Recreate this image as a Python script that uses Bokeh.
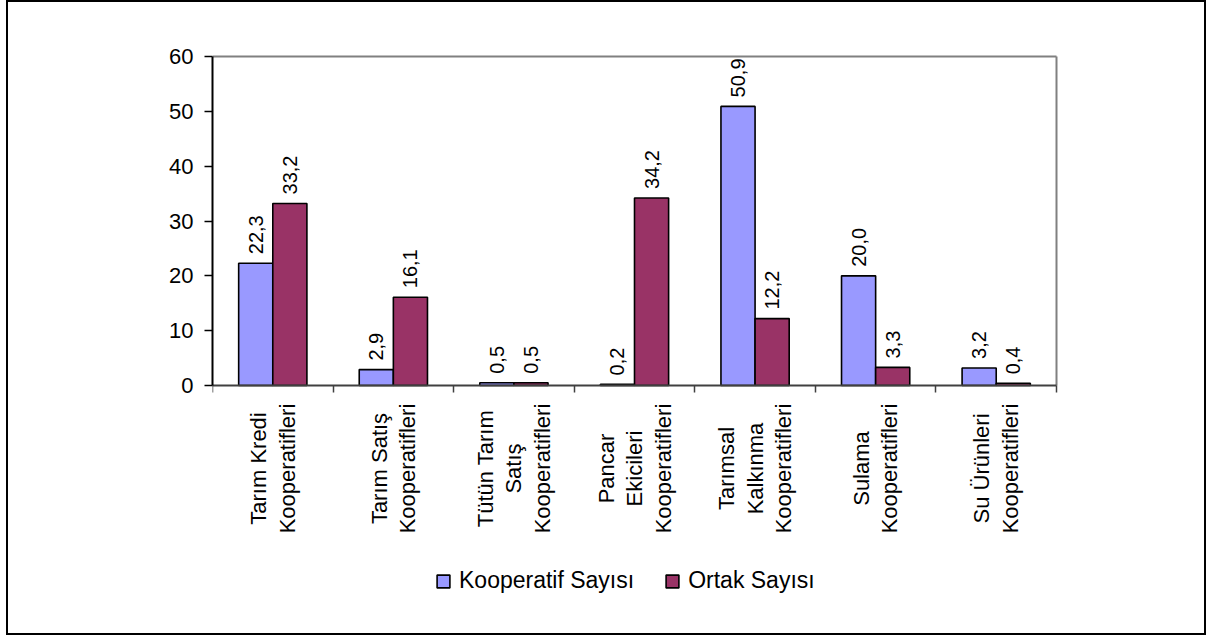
from math import pi
from bokeh.plotting import figure
from bokeh.models import Range1d, FixedTicker, Legend, LegendItem
from bokeh.core.properties import value
from bokeh.embed import file_html
from bokeh.resources import INLINE

# ---- data ----
categories = [
    "Tarım Kredi\nKooperatifleri",
    "Tarım Satış\nKooperatifleri",
    "Tütün Tarım\nSatış\nKooperatifleri",
    "Pancar\nEkicileri\nKooperatifleri",
    "Tarımsal\nKalkınma\nKooperatifleri",
    "Sulama\nKooperatifleri",
    "Su Ürünleri\nKooperatifleri",
]
kooperatif_sayisi = [22.3, 2.9, 0.5, 0.2, 50.9, 20.0, 3.2]
ortak_sayisi = [33.2, 16.1, 0.5, 34.2, 12.2, 3.3, 0.4]
series_names = ["Kooperatif Sayısı", "Ortak Sayısı"]
y_ticks = [0, 10, 20, 30, 40, 50, 60]

# ---- style / layout (pixels) ----
FONT_NAME = "Liberation Sans"
FONT = value(FONT_NAME)
BLUE = "#9999FF"
MAROON = "#993366"

W, H = 1200, 635
AX_LEFT, AX_RIGHT, AX_TOP, AX_ZERO = 204, 1048, 54, 383    # plot box on canvas
F_BOTTOM = 608                                               # frame extends down for labels
PAD = 2
n = len(categories)
ppy = (AX_ZERO - AX_TOP) / (y_ticks[-1] - y_ticks[0])
ppx = (AX_RIGHT - AX_LEFT) / n

p = figure(
    width=W, height=H,
    x_range=Range1d(0, n + PAD / ppx),
    y_range=Range1d(-(F_BOTTOM - AX_ZERO) / ppy, y_ticks[-1] + PAD / ppy),
    min_border_left=AX_LEFT, min_border_right=W - AX_RIGHT - PAD,
    min_border_top=AX_TOP - PAD, min_border_bottom=H - F_BOTTOM,
    output_backend="svg", toolbar_location=None,
)
p.styles = {"border": "2px solid black", "margin-left": "6px"}
p.background_fill_color = "white"
p.border_fill_color = "white"
p.outline_line_color = None
p.xgrid.visible = False
p.ygrid.visible = False

# gray top and right border of the plot box
p.segment(x0=[0, n], y0=[y_ticks[-1], 0], x1=[n, n], y1=[y_ticks[-1], y_ticks[-1]],
          line_color="#808080", line_width=2)

bar_w = 0.283
centers = [i + 0.5 for i in range(n)]
x_k = [c - bar_w / 2 for c in centers]
x_o = [c + bar_w / 2 for c in centers]

r1 = p.vbar(x=x_k, top=kooperatif_sayisi, bottom=0, width=bar_w,
            fill_color=BLUE, line_color="black", line_width=1.6)
r2 = p.vbar(x=x_o, top=ortak_sayisi, bottom=0, width=bar_w,
            fill_color=MAROON, line_color="black", line_width=1.6)

def fmt(v):
    return f"{v:.1f}".replace(".", ",")

gap = 9 / ppy
p.text(x=x_k, y=[v + gap for v in kooperatif_sayisi], text=[fmt(v) for v in kooperatif_sayisi],
       angle=pi / 2, text_align="left", text_baseline="middle",
       text_font=FONT, text_font_size="20px", text_color="black")
p.text(x=x_o, y=[v + gap for v in ortak_sayisi], text=[fmt(v) for v in ortak_sayisi],
       angle=pi / 2, text_align="left", text_baseline="middle",
       text_font=FONT, text_font_size="20px", text_color="black")

# category labels: rotated, each line centred on its own
line_step = 28.5 / ppx
cat_y = -83 / ppy
lx, ly, lt = [], [], []
for c, name in zip(centers, categories):
    lines = name.split("\n")
    k = len(lines)
    for j, line in enumerate(lines):
        lx.append(c + (j - (k - 1) / 2) * line_step)
        ly.append(cat_y)
        lt.append(line)
p.text(x=lx, y=ly, text=lt, angle=pi / 2,
       text_align="center", text_baseline="middle",
       text_font=FONT, text_font_size="22px", text_color="black")

# y axis
yax = p.yaxis[0]
yax.ticker = FixedTicker(ticks=y_ticks)
yax.bounds = (y_ticks[0], y_ticks[-1])
yax.major_tick_out = 8
yax.major_tick_in = 0
yax.minor_tick_out = 0
yax.minor_tick_in = 0
yax.axis_line_color = "black"
yax.axis_line_width = 2
yax.major_tick_line_color = "black"
yax.major_tick_line_width = 1.5
yax.major_label_text_font = FONT_NAME
yax.major_label_text_font_size = "22px"
yax.major_label_text_color = "black"
yax.major_label_standoff = 11

# x axis at y = 0, tick marks at category boundaries
xax = p.xaxis[0]
xax.fixed_location = 0
xax.bounds = (0, n)
xax.ticker = FixedTicker(ticks=list(range(n + 1)))
xax.major_tick_out = 7
xax.major_tick_in = 0
xax.minor_tick_out = 0
xax.minor_tick_in = 0
xax.axis_line_color = "#404040"
xax.axis_line_width = 2
xax.major_tick_line_color = "#404040"
xax.major_tick_line_width = 1.5
xax.major_label_overrides = {i: "" for i in range(n + 1)}
xax.major_label_text_font_size = "0px"

legend = Legend(
    items=[LegendItem(label=series_names[0], renderers=[r1]),
           LegendItem(label=series_names[1], renderers=[r2])],
    location=(223, 16), orientation="horizontal",
    padding=0, margin=0, border_line_color=None, background_fill_alpha=0,
    glyph_width=16, glyph_height=16, label_standoff=8, spacing=30,
    label_text_font=FONT_NAME, label_text_font_size="23px",
    label_text_color="black",
)
p.add_layout(legend)

open("out.html", "w").write(file_html(p, INLINE))
